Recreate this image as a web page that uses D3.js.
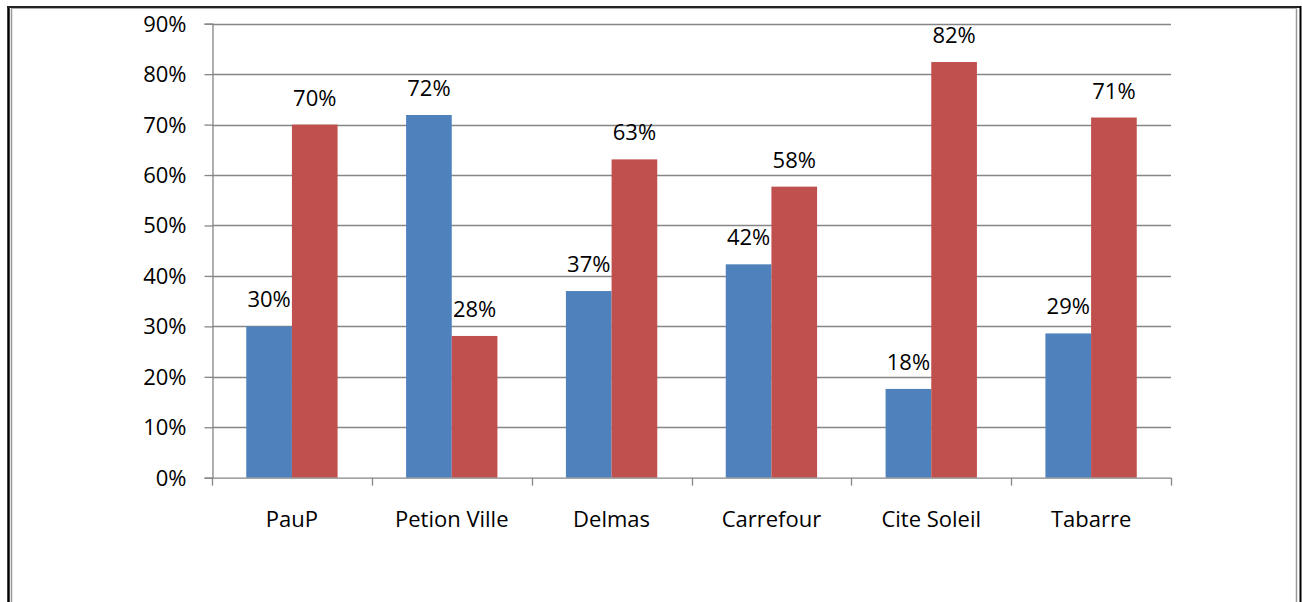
<!DOCTYPE html>
<html>
<head>
<meta charset="utf-8">
<script src="https://cdn.jsdelivr.net/npm/d3@7"></script>
<style>
  html, body { margin: 0; padding: 0; background: #fff; }
  svg { display: block; }
  text { font-family: "Open Sans", "Noto Sans", sans-serif; fill: #000; }
</style>
</head>
<body>
<svg id="chart" width="1302" height="602"></svg>
<script>
// Share of respondents per commune, two series
const communes = ["PauP", "Petion Ville", "Delmas", "Carrefour", "Cite Soleil", "Tabarre"];
const seriesA = [30.0, 71.9, 37.0, 42.3, 17.6, 28.6];
const seriesB = [70.0, 28.1, 63.1, 57.7, 82.4, 71.4];
const yTicks = [0, 10, 20, 30, 40, 50, 60, 70, 80, 90];

const seriesColors = ["#4F81BD", "#C0504D"];
const fontSize = "22px";

const svg = d3.select("#chart");

// Frame around the chart object
svg.append("line").attr("x1", 8.5).attr("x2", 8.5).attr("y1", 6).attr("y2", 602)
  .attr("stroke", "#000").attr("stroke-width", 2.5);
svg.append("line").attr("x1", 7).attr("x2", 1301).attr("y1", 7).attr("y2", 7)
  .attr("stroke", "#222").attr("stroke-width", 2);
svg.append("line").attr("x1", 1300.5).attr("x2", 1300.5).attr("y1", 6).attr("y2", 602)
  .attr("stroke", "#000").attr("stroke-width", 2);
svg.append("line").attr("x1", 11.5).attr("x2", 11.5).attr("y1", 8.5).attr("y2", 602)
  .attr("stroke", "#999").attr("stroke-width", 1.5);
svg.append("line").attr("x1", 1296.5).attr("x2", 1296.5).attr("y1", 8.5).attr("y2", 602)
  .attr("stroke", "#999").attr("stroke-width", 1.5);
svg.append("line").attr("x1", 11).attr("x2", 1297).attr("y1", 8.5).attr("y2", 8.5)
  .attr("stroke", "#aaa").attr("stroke-width", 1);

const plot = { left: 212, right: 1171, top: 23.7, bottom: 477.7 };

const x = d3.scaleBand().domain(communes).range([plot.left, plot.right]).paddingInner(0).paddingOuter(0);
const y = d3.scaleLinear().domain([0, 90]).range([plot.bottom, plot.top]);

// Two bars per group, 150% gap width
const groupW = x.bandwidth();
const barW = groupW / 3.5;
const groupPad = (groupW - 2 * barW) / 2;

// Horizontal gridlines
svg.append("g")
  .selectAll("line")
  .data(yTicks.filter(d => d > 0))
  .join("line")
  .attr("x1", plot.left).attr("x2", plot.right)
  .attr("y1", d => Math.round(y(d)) + 0.5).attr("y2", d => Math.round(y(d)) + 0.5)
  .attr("stroke", "#868686").attr("stroke-width", 1.3);

// Y axis
const yAxis = d3.axisLeft(y).tickValues(yTicks).tickSize(8).tickFormat(d => d + "%");
const gy = svg.append("g").attr("transform", `translate(${plot.left + 0.5},0)`).call(yAxis);
gy.select(".domain").attr("stroke", "#868686").attr("stroke-width", 1.3);
gy.selectAll(".tick line").attr("stroke", "#868686").attr("stroke-width", 1.3);
gy.selectAll(".tick text")
  .attr("x", -26).attr("dy", "0.34em")
  .style("font-family", "'Open Sans', sans-serif").style("font-size", fontSize).attr("fill", "#000");

// Bars
const series = [seriesA, seriesB];
series.forEach((vals, si) => {
  svg.append("g")
    .selectAll("rect")
    .data(communes)
    .join("rect")
    .attr("x", (c) => x(c) + groupPad + si * barW)
    .attr("y", (c, i) => y(vals[i]))
    .attr("width", barW)
    .attr("height", (c, i) => plot.bottom - y(vals[i]))
    .attr("fill", seriesColors[si]);
});

// Data labels
series.forEach((vals, si) => {
  svg.append("g")
    .selectAll("text")
    .data(communes)
    .join("text")
    .attr("x", (c) => x(c) + groupPad + si * barW + barW / 2)
    .attr("y", (c, i) => y(vals[i]) - 19)
    .attr("text-anchor", "middle")
    .style("font-size", fontSize)
    .text((c, i) => Math.round(vals[i]) + "%");
});

// X axis
const xAxis = d3.axisBottom(x).tickSize(0).tickFormat(d => d);
const gx = svg.append("g").attr("transform", `translate(0,${plot.bottom})`).call(xAxis);
gx.select(".domain").remove();
gx.selectAll(".tick text")
  .attr("y", 49)
  .attr("dy", 0)
  .style("font-family", "'Open Sans', sans-serif").style("font-size", fontSize).attr("fill", "#000");

// Axis baseline and category boundary ticks
svg.append("line").attr("x1", plot.left).attr("x2", plot.right)
  .attr("y1", plot.bottom + 0.5).attr("y2", plot.bottom + 0.5)
  .attr("stroke", "#868686").attr("stroke-width", 1.3);
svg.append("g")
  .selectAll("line")
  .data(d3.range(communes.length + 1))
  .join("line")
  .attr("x1", i => Math.round(plot.left + i * groupW) + 0.5)
  .attr("x2", i => Math.round(plot.left + i * groupW) + 0.5)
  .attr("y1", plot.bottom).attr("y2", plot.bottom + 8)
  .attr("stroke", "#868686").attr("stroke-width", 1.3);
</script>
</body>
</html>
